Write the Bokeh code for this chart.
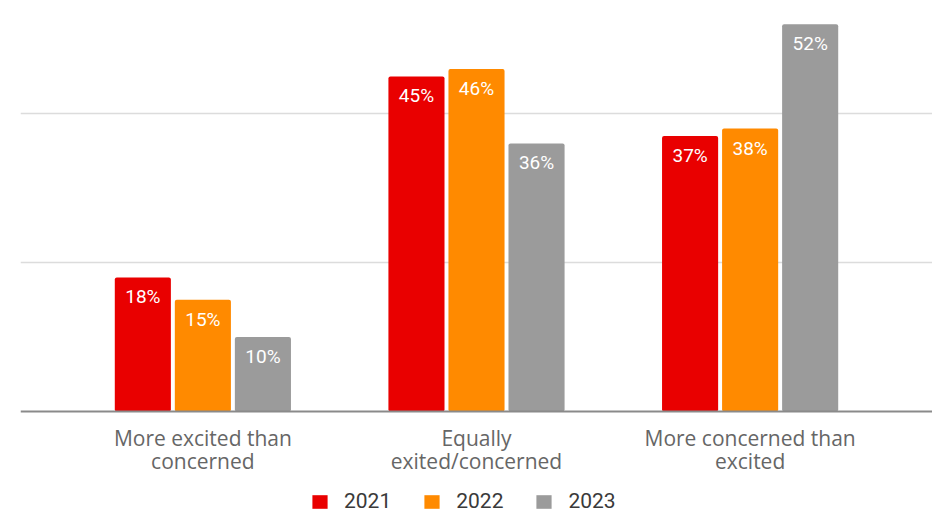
from bokeh.plotting import figure
from bokeh.models import ColumnDataSource, FactorRange, FixedTicker, Legend, LegendItem, Span
from bokeh.transform import dodge
from bokeh.core.properties import value
from bokeh.embed import file_html
from bokeh.resources import INLINE

categories = ["More excited than concerned", "Equally exited/concerned", "More concerned than excited"]
label_line1 = ["More excited than", "Equally", "More concerned than"]
label_line2 = ["concerned", "exited/concerned", "excited"]
years = ["2021", "2022", "2023"]
v2021 = [18, 45, 37]
v2022 = [15, 46, 38]
v2023 = [10, 36, 52]
colors = ["#e90000", "#ff8a00", "#9b9b9b"]

series = [v2021, v2022, v2023]
data = {"cat": categories, "l1": label_line1, "l2": label_line2, "zero": [0] * len(categories)}
for y, s in zip(years, series):
    data["v" + y] = s
    data["t" + y] = [f"{v}%" for v in s]
src = ColumnDataSource(data)

p = figure(x_range=FactorRange(factors=categories, range_padding=0.111),
           y_range=(-13.7, 55.2), frame_width=912, frame_height=513,
           output_backend="svg", toolbar_location=None,
           min_border_left=20, min_border_right=0, min_border_top=0, min_border_bottom=0)
p.outline_line_color = None
p.background_fill_color = "white"
p.xaxis.visible = False
p.yaxis.visible = False

FONT = "Roboto"
p.ygrid.ticker = FixedTicker(ticks=[20, 40])
p.ygrid.grid_line_color = "#dcdcdc"
p.ygrid.grid_line_width = 1.5
p.xgrid.grid_line_color = None

# baseline (category axis line)
p.add_layout(Span(location=0, dimension="width", line_color="#8a8a8a", line_width=2))

offsets = [-0.2194, 0.0, 0.2194]
items = []
for y, c, off in zip(years, colors, offsets):
    r = p.vbar(x=dodge("cat", off, range=p.x_range), top="v" + y, bottom=0, width=0.205,
               source=src, fill_color=c, line_color=None, border_radius=2)
    p.text(x=dodge("cat", off, range=p.x_range), y="v" + y, text="t" + y, source=src,
           text_align="center", text_baseline="top", y_offset=8,
           text_color="white", text_font=value(FONT), text_font_size="19px")
    items.append(LegendItem(label=y, renderers=[r]))

# category labels under the baseline
for col, off in (("l1", 27), ("l2", 50)):
    p.text(x="cat", y="zero", text=col, source=src, text_align="center",
           text_baseline="middle", y_offset=off, text_color="#666666",
           text_font=value("Open Sans"), text_font_size="21px")

legend = Legend(items=items, orientation="horizontal", location=(290, 0),
                label_text_font=FONT, label_text_font_size="21px",
                label_text_color="#3a3a3a", glyph_width=19, glyph_height=17,
                spacing=31, border_line_color=None, background_fill_alpha=0,
                padding=0, margin=0, label_standoff=15)
p.add_layout(legend, "center")

open("out.html", "w").write(file_html(p, INLINE))
